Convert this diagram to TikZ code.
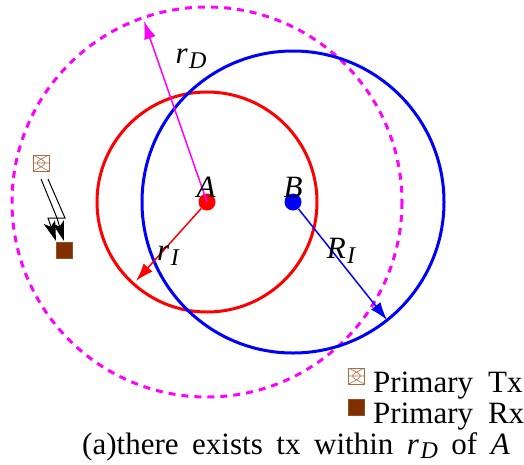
\documentclass[tikz,border=0pt]{standalone}
\usepackage{fontspec}
\setmainfont{Liberation Serif}
\usetikzlibrary{arrows.meta,patterns}
\definecolor{rxbrown}{RGB}{128,48,0}
\definecolor{txbrown}{RGB}{176,104,64}
\definecolor{puremag}{RGB}{255,0,255}
\newcommand{\itsub}[2]{{\itshape #1}\kern1.5pt\raisebox{-0.16em}{\fontsize{24}{25}\selectfont\itshape #2}}
\tikzset{
  x=1pt,y=-1pt,
  lab/.style={inner sep=0pt,font=\fontsize{31}{33}\selectfont},
  ring/.style={line width=3pt,draw=#1,fill=none},
  radius arrow/.style={draw=#1,line width=1.5pt,-{Latex[length=18pt,width=12pt,fill=#1]}},
  dot/.style={circle,fill=#1,inner sep=0pt,minimum size=17pt},
  txbox/.style={draw=txbrown,line width=1pt,minimum size=16pt,inner sep=0pt,path picture={
     \draw[txbrown,line width=0.6pt]
       (path picture bounding box.north west) .. controls (path picture bounding box.east) .. (path picture bounding box.south west)
       (path picture bounding box.north east) .. controls (path picture bounding box.west) .. (path picture bounding box.south east)
       (path picture bounding box.west) -- (path picture bounding box.east);}},
  rxbox/.style={fill=rxbrown,draw=rxbrown!85!white,line width=0.5pt,minimum size=16pt,inner sep=0pt},
  link/.style={draw=black,line width=1pt,-{Stealth[length=20pt,width=12pt,inset=5pt]}},
}
\begin{document}
\begin{tikzpicture}
\useasboundingbox (0,0) rectangle (524,464);
% circles
\coordinate (ca) at (207,202);
\coordinate (cb) at (293,202);
\draw[ring=puremag,dash pattern=on 7pt off 6pt] (ca) circle[radius=195];
\draw[ring=red] (ca) circle[radius=110];
\draw[ring=blue] (cb) circle[radius=151];
% radii ends
\coordinate (rd) at (144,21);
\coordinate (ri) at (136,281);
\coordinate (rb) at (387,320);
\node[dot=red] (A) at (ca) {};
\node[dot=blue] (B) at (cb) {};
\draw[radius arrow=puremag] (A.center) -- (rd);
\draw[radius arrow=red] (A) -- (ri);
\draw[radius arrow=blue] (B) -- (rb);
\node[lab] at (206,187) {\itshape A};
\node[lab] at (293,187) {\itshape B};
\node[lab] at (191,59) {\itsub{r}{D}};
\node[lab] at (168,256) {\itsub{r}{I}};
\node[lab] at (341,251) {\itsub{R}{I}};
% tx rx pair
\node[txbox] (tx) at (41,163) {};
\node[rxbox] (rx) at (64.5,250) {};
\coordinate (a1) at (41,179);
\coordinate (a2) at (48,179);
\coordinate (k1) at (57,218);
\coordinate (k2) at (65,218);
\draw[link] (a1) -- (k1) -- (48,218) -- (56,241);
\draw[link] (a2) -- (k2) -- (57,218) -- (64,241);
% legend
\node[txbox] (ltx) at (356.5,376) {};
\node[rxbox] (lrx) at (356.5,407) {};
\node[lab,anchor=base west] at (373,392) {\spaceskip=15pt Primary Tx};
\node[lab,anchor=base west] at (373,423) {\spaceskip=15pt Primary Rx};
\node[lab,anchor=base east] at (510,454) {\spaceskip=13.6pt (a)there exists tx within \itsub{r}{D} of {\itshape A}};
\end{tikzpicture}
\end{document}
